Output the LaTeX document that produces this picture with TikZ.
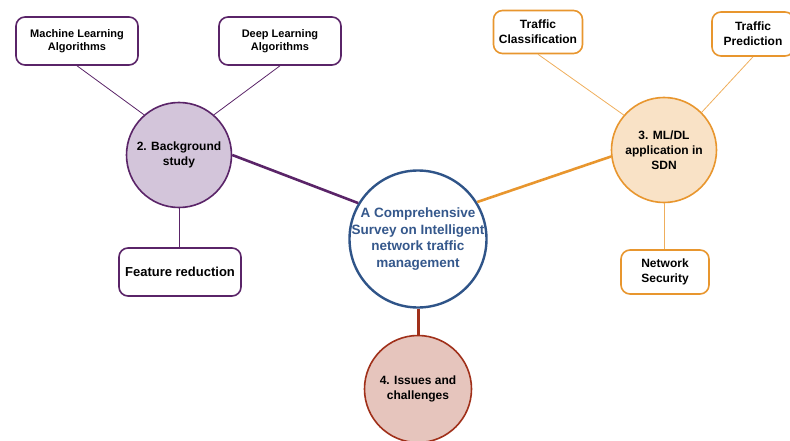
\documentclass[tikz,border=0pt]{standalone}
\usepackage{fontspec}
\setmainfont{Liberation Sans}
\usetikzlibrary{arrows}
\definecolor{bgline}{HTML}{5A2468}
\definecolor{bgfill}{HTML}{D3C5DA}
\definecolor{appline}{HTML}{E8962E}
\definecolor{appthin}{HTML}{EFAE5C}
\definecolor{appfill}{HTML}{F9E2C6}
\definecolor{mainline}{HTML}{2F5488}
\definecolor{maintext}{HTML}{35588C}
\definecolor{issline}{HTML}{A0301A}
\definecolor{issfill}{HTML}{E6C5BD}
\begin{document}
\begin{tikzpicture}[x=1pt,y=-1pt]
\tikzstyle{every node}=[inner sep=0pt, align=center]
\tikzstyle{topic}=[circle, line width=1.6pt, minimum size=105pt, font=\fontsize{12}{15}\selectfont\bfseries]
\tikzstyle{leaf}=[rectangle, rounded corners=9pt, line width=1.6pt, fill=white]
\useasboundingbox (0,0) rectangle (790,441);
\draw (418,239) node (main) [circle, draw=mainline, line width=2.4pt, fill=white, inner sep=-6pt, minimum size=137pt, text=maintext, font=\fontsize{13.5}{16.5}\selectfont\bfseries] {A Comprehensive\\Survey on Intelligent\\network traffic\\management};
\draw (179,155) node (bg) [topic, draw=bgline, fill=bgfill] {2. Background\\study};
\draw (664,150) node (app) [topic, draw=appline, fill=appfill] {3. ML/DL\\application in\\SDN};
\draw (418,389) node (iss) [topic, draw=issline, fill=issfill, minimum size=107pt] {4. Issues and\\challenges};
\draw (77,41) node (mlalg) [leaf, draw=bgline, minimum width=122pt, minimum height=48pt, font=\fontsize{11}{13}\selectfont\bfseries] {Machine Learning\\Algorithms};
\draw (280,41) node (dlalg) [leaf, draw=bgline, minimum width=122pt, minimum height=48pt, font=\fontsize{11}{13}\selectfont\bfseries] {Deep Learning\\Algorithms};
\draw (180,272) node (feat) [leaf, draw=bgline, minimum width=122pt, minimum height=48pt, font=\fontsize{13}{15}\selectfont\bfseries] {Feature reduction};
\draw (538,32) node (tclass) [leaf, draw=appline, minimum width=89pt, minimum height=43pt, font=\fontsize{12}{15}\selectfont\bfseries] {Traffic\\Classification};
\draw (753,34) node (tpred) [leaf, draw=appline, minimum width=82pt, minimum height=44pt, font=\fontsize{12}{15}\selectfont\bfseries] {Traffic\\Prediction};
\draw (665,272) node (netsec) [leaf, draw=appline, minimum width=88pt, minimum height=44pt, font=\fontsize{12}{15}\selectfont\bfseries] {Network\\Security};
\draw [bgline, line width=0.8pt] (mlalg.south) -- (bg.131);
\draw [bgline, line width=0.8pt] (dlalg.south) -- (bg.49);
\draw [bgline, line width=0.8pt] (bg.south) -- (bg.south |- feat.north);
\draw [bgline, line width=2.6pt] (bg.east) -- (main.149);
\draw [appline, line width=2.6pt] (main.32) -- (app.187);
\draw [appthin, line width=0.8pt] (tclass.south) -- (app.139);
\draw [appthin, line width=0.8pt] (tpred.south) -- (app.45);
\draw [appthin, line width=0.8pt] (app.south) -- (app.south |- netsec.north);
\draw [issline, line width=3pt] (main.south) -- (iss.north);
\end{tikzpicture}
\end{document}
